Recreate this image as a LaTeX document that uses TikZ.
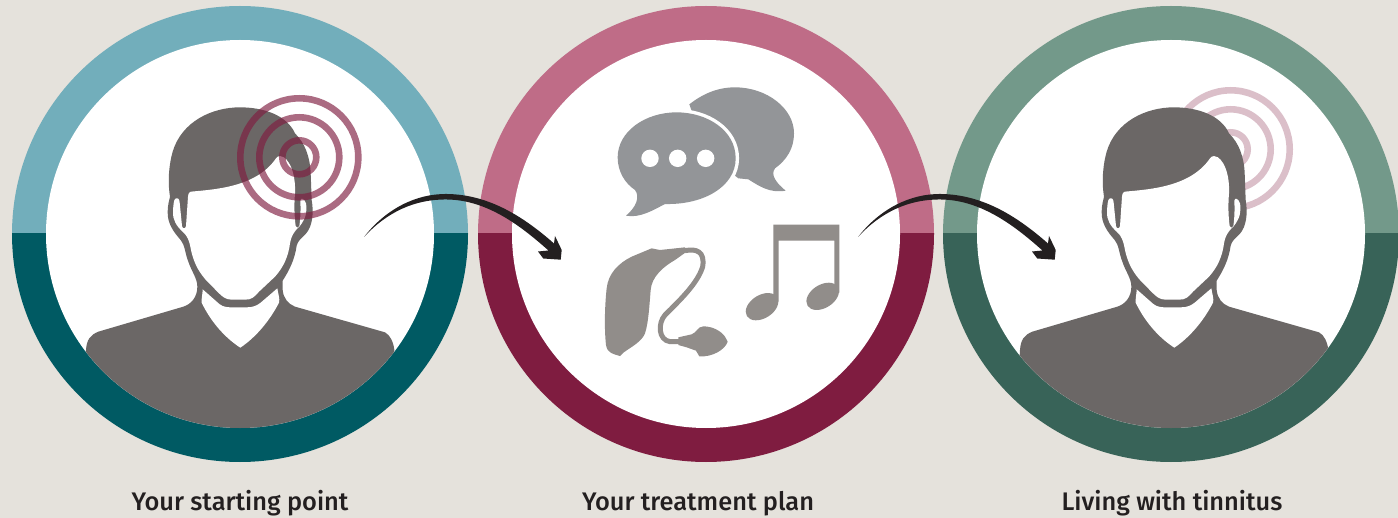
\documentclass[tikz,border=0pt]{standalone}
\usepackage{fontspec}
\setmainfont{Fira Sans}
\newfontfamily\lblfont{Fira Sans Medium}
\definecolor{bgc}{HTML}{E5E2DC}
\definecolor{tealL}{HTML}{72AEBB}
\definecolor{tealD}{HTML}{005A63}
\definecolor{pinkL}{HTML}{BF6C87}
\definecolor{pinkD}{HTML}{7F1C40}
\definecolor{greenL}{HTML}{73998A}
\definecolor{greenD}{HTML}{386358}
\definecolor{mangrey}{HTML}{6B6766}
\definecolor{bubgrey}{HTML}{939598}
\definecolor{objgrey}{HTML}{918D8A}
\definecolor{arrowc}{HTML}{231F20}
\tikzset{
  lbl/.style={font=\lblfont\fontsize{12.7}{15}\selectfont, text=arrowc, inner sep=0pt, anchor=base},
  ringline/.style={line width=3.3pt, draw=pinkD},
  zoomed/.style={x=0.16667pt,y=-0.16667pt}
}
\newcommand{\ringset}[3]{%
  \foreach \rr in {59,40,17}{\draw[ringline,opacity=#3] (#1,#2) circle[radius=\rr*0.5pt];}%
}
\newcommand{\disc}[3]{%
  \begin{scope}\clip (#1-230,4) rectangle (#1+230,234);\fill[#2] (#1,234) circle[radius=114pt];\end{scope}
  \begin{scope}\clip (#1-230,234) rectangle (#1+230,464);\fill[#3] (#1,234) circle[radius=114pt];\end{scope}
  \fill[white] (#1,234) circle[radius=97pt];
}
\newcommand{\manshape}[1]{%
  \begin{scope}[shift={(#1,80)},zoomed]
    \fill[mangrey] (60,1100) -- (78,810) .. controls (80,780) and (90,765) .. (115,755)
      -- (370,680) .. controls (395,672) and (412,650) .. (412,620)
      .. controls (412,595) and (395,575) .. (385,545)
      .. controls (375,520) and (375,495) .. (362,480)
      .. controls (340,455) and (322,430) .. (323,395)
      .. controls (323,375) and (328,360) .. (330,350)
      .. controls (322,300) and (328,250) .. (338,215)
      .. controls (365,125) and (455,82) .. (540,82)
      .. controls (610,82) and (680,105) .. (705,160)
      .. controls (735,190) and (750,230) .. (752,280)
      -- (755,360) .. controls (762,400) and (757,440) .. (737,462)
      .. controls (722,477) and (714,482) .. (710,497)
      .. controls (704,540) and (687,572) .. (668,602)
      -- (668,630) .. controls (670,655) and (685,672) .. (705,680)
      -- (975,757) .. controls (990,765) and (1000,785) .. (1003,810)
      -- (1020,1100) -- cycle;
    \fill[white] (392,335) .. controls (470,328) and (590,320) .. (648,235)
      .. controls (655,225) and (665,228) .. (672,232)
      .. controls (695,250) and (707,290) .. (705,340)
      .. controls (702,375) and (703,410) .. (707,438)
      .. controls (708,445) and (716,445) .. (718,438)
      .. controls (722,410) and (722,385) .. (721,362)
      .. controls (722,352) and (733,355) .. (738,370)
      .. controls (742,395) and (738,415) .. (718,440)
      .. controls (701,455) and (693,470) .. (690,490)
      .. controls (685,530) and (670,562) .. (645,590)
      -- (597,635) .. controls (582,652) and (575,659) .. (555,659)
      -- (515,659) .. controls (497,659) and (487,650) .. (473,636)
      -- (436,598) .. controls (412,570) and (398,540) .. (391,500)
      .. controls (388,485) and (383,468) .. (369,456)
      .. controls (349,438) and (338,420) .. (339,395)
      .. controls (340,375) and (341,360) .. (346,356)
      .. controls (355,352) and (358,358) .. (359,368)
      -- (366,438) .. controls (368,447) and (376,447) .. (378,438)
      -- (384,350) .. controls (385,340) and (388,336) .. (392,335) -- cycle;
    \fill[white] (428,628) -- (478,672) .. controls (490,682) and (505,682) .. (520,682)
      -- (560,682) .. controls (580,682) and (590,677) .. (602,668)
      -- (652,625) .. controls (655,645) and (660,655) .. (657,668)
      .. controls (630,720) and (590,770) .. (541,803)
      .. controls (490,770) and (450,720) .. (425,668)
      .. controls (424,655) and (428,640) .. (428,628) -- cycle;
  \end{scope}
}
\newcommand{\arrowshape}[1]{%
  \begin{scope}[xshift=#1*0.5pt]
    \fill[arrowc] (364,237) .. controls (385,210) and (415,193.5) .. (447,194)
      .. controls (490,194.5) and (525,218) .. (554,243.5)
      -- (555,236) -- (561.7,250) -- (560.7,259.7) -- (543.3,258.5) -- (538,251.5) -- (548.5,250.5)
      .. controls (522,227) and (488,200) .. (447,199.5)
      .. controls (415,199) and (387,212) .. (364,237) -- cycle;
  \end{scope}
}
\begin{document}
\begin{tikzpicture}[x=0.5pt,y=-0.5pt]
\useasboundingbox (0,0) rectangle (1398,518);
\fill[bgc] (0,0) rectangle (1398,518);
\disc{240}{tealL}{tealD}
\disc{706}{pinkL}{pinkD}
\disc{1171}{greenL}{greenD}
\begin{scope}\clip (240,234) circle[radius=97pt];\manshape{60}\end{scope}
\ringset{299.3}{157.3}{0.65}
\ringset{1230.7}{149.3}{0.28}
\begin{scope}\clip (1171,234) circle[radius=97pt];\manshape{994}\end{scope}
\begin{scope}[shift={(590,70)},zoomed]
  \fill[bubgrey] (298,103) .. controls (340,70) and (385,52) .. (435,52)
    .. controls (530,52) and (612,115) .. (612,190)
    .. controls (612,235) and (590,270) .. (555,295)
    .. controls (540,315) and (560,340) .. (587,362)
    .. controls (540,370) and (510,350) .. (475,328)
    -- (445,325) -- (350,250) -- cycle;
  \fill[bubgrey,draw=white,line width=3.4pt] (225,402) .. controls (340,405) and (437,350) .. (437,265)
    .. controls (437,180) and (350,127) .. (260,127)
    .. controls (165,127) and (83,185) .. (83,262)
    .. controls (83,305) and (105,340) .. (135,360)
    .. controls (150,380) and (140,410) .. (108,437)
    .. controls (150,445) and (190,420) .. (225,402) -- cycle;
  \fill[bubgrey] (225,402) .. controls (340,405) and (437,350) .. (437,265)
    .. controls (437,180) and (350,127) .. (260,127)
    .. controls (165,127) and (83,185) .. (83,262)
    .. controls (83,305) and (105,340) .. (135,360)
    .. controls (150,380) and (140,410) .. (108,437)
    .. controls (150,445) and (190,420) .. (225,402) -- cycle;
  \fill[white] (180,265) circle[radius=4.35pt] (263,265) circle[radius=4.35pt] (347,265) circle[radius=4.35pt];
  \fill[objgrey] (550,464) -- (748,464) -- (748,668) -- (733,668) -- (733,512) -- (566,512) -- (566,695) -- (550,695) -- cycle;
  \fill[objgrey,rotate around={32:(516,710)}] (516,710) ellipse[x radius=8.9pt,y radius=5.8pt];
  \fill[objgrey,rotate around={32:(698,679)}] (698,679) ellipse[x radius=8.9pt,y radius=5.8pt];
  \fill[objgrey] (90,858) .. controls (70,852) and (52,850) .. (48,825)
    .. controls (42,770) and (45,700) .. (50,655)
    .. controls (55,610) and (85,580) .. (125,560)
    -- (185,535) -- (210,540) -- (285,532) -- (290,545) -- (255,570)
    .. controls (220,590) and (185,620) .. (182,660)
    .. controls (178,710) and (175,760) .. (165,790)
    .. controls (155,815) and (125,830) .. (100,848) -- cycle;
  \draw[objgrey,line width=2.5pt] (285,542) .. controls (320,535) and (345,545) .. (338,590)
    .. controls (323,640) and (270,690) .. (225,735)
    .. controls (203,760) and (205,810) .. (240,815) -- (270,815);
  \fill[objgrey] (265,802) -- (305,793) .. controls (320,788) and (322,770) .. (340,769)
    .. controls (370,769) and (395,785) .. (405,800)
    -- (413,815) .. controls (405,840) and (365,862) .. (328,859)
    -- (318,842) -- (290,832) -- (265,825) -- cycle;
\end{scope}
\arrowshape{0}
\arrowshape{494}
\node[lbl] (t1) at (240,510) {Your starting point};
\node[lbl] (t2) at (698,510) {Your treatment plan};
\node[lbl] (t3) at (1172,510) {Living with tinnitus};
\end{tikzpicture}
\end{document}
